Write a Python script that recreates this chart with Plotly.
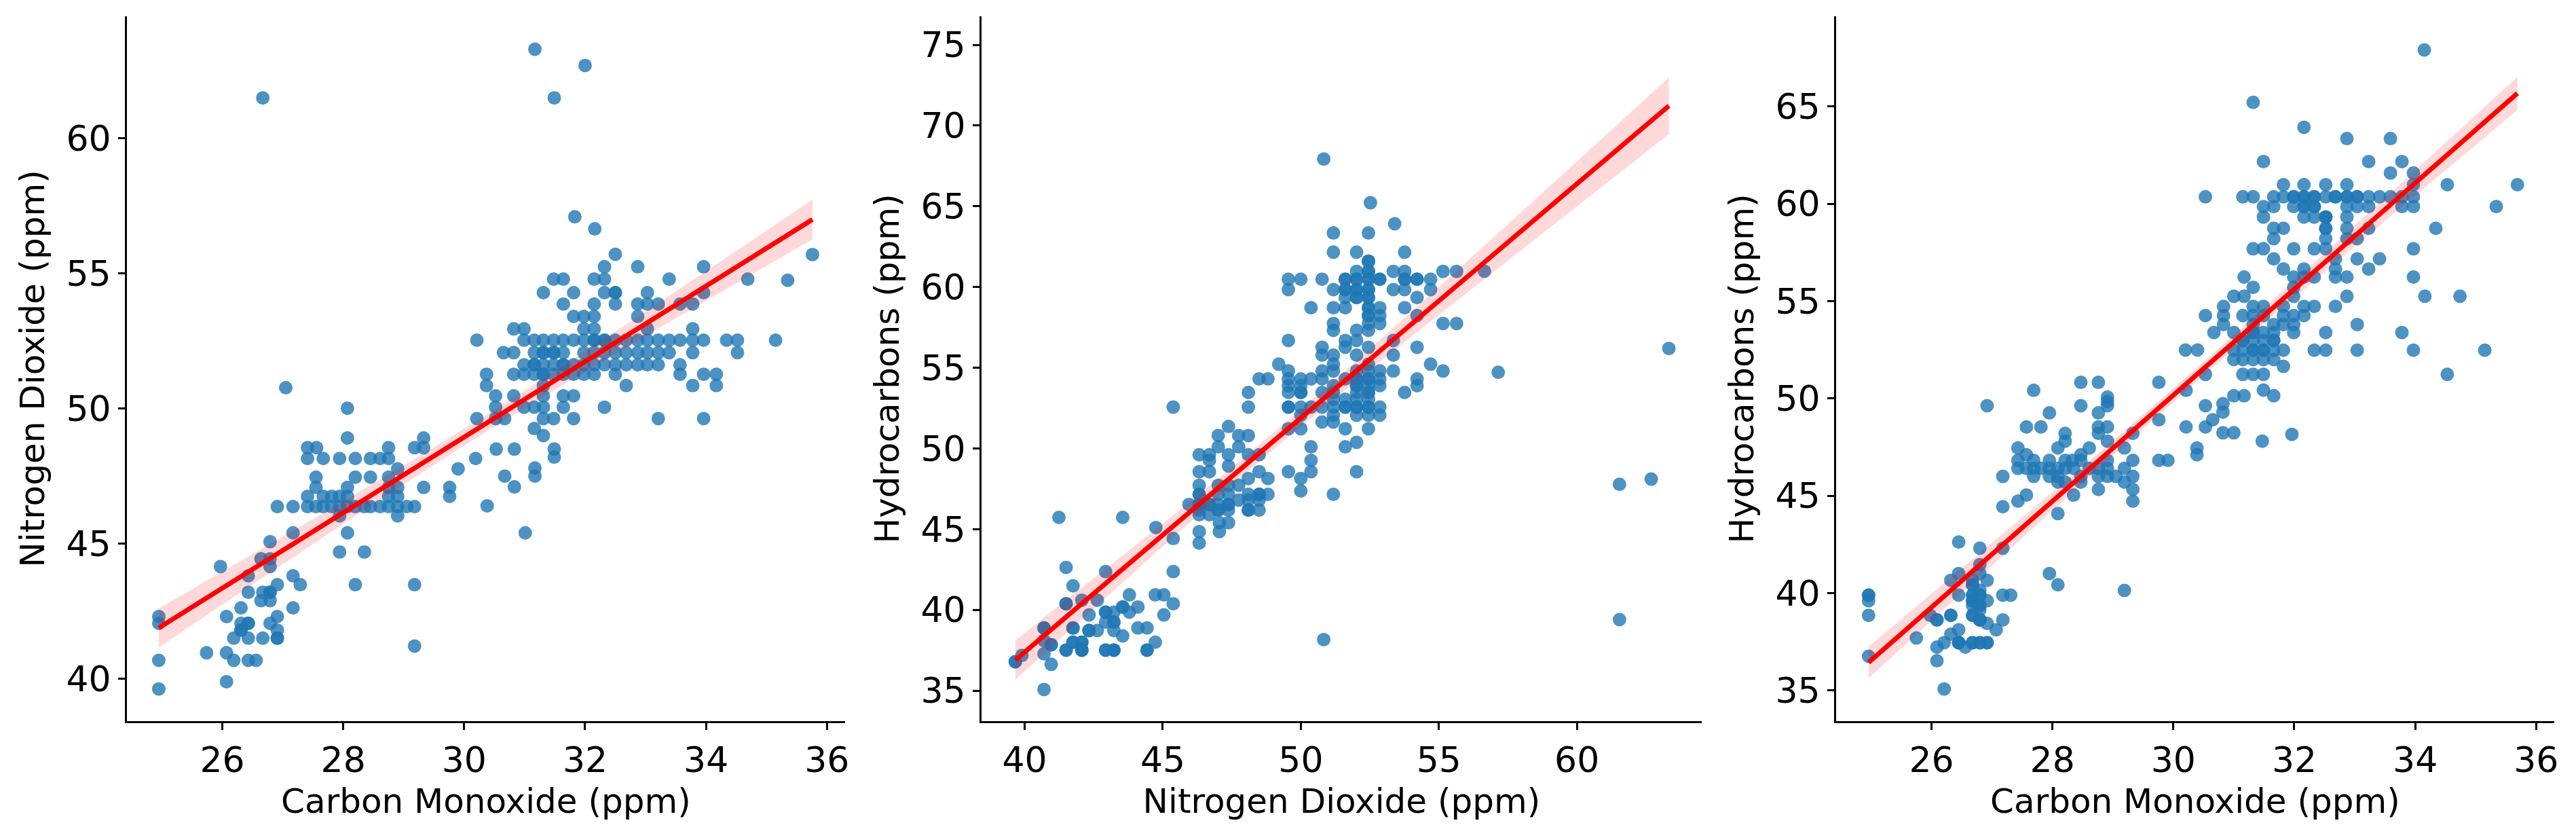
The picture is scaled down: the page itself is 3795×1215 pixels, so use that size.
import numpy as np
import plotly.graph_objects as go

# ---------------- Panel 1: Carbon Monoxide vs Nitrogen Dioxide ----------------
p1_co = [
    31.17, 32.0, 26.67, 31.49, 31.83, 32.16, 35.76, 35.35, 35.15,
    32.5,
    32.32, 32.87, 33.96,
    31.48, 31.64, 32.15, 32.32, 33.39, 34.69,
    31.31, 31.81, 32.32, 32.5, 33.03, 33.96,
    31.64, 32.15, 32.5, 32.87, 33.03, 33.21, 33.57, 33.78,
    31.81, 31.98, 32.15, 32.87,
    30.82, 30.99, 31.98, 32.15, 33.03, 33.78,
    30.21, 30.99, 31.16, 31.31, 31.48, 31.64, 31.81, 31.98, 32.15, 32.32, 32.5,
    32.68, 32.87, 33.03, 33.21, 33.39, 33.57, 33.78, 33.96, 34.34, 34.52,
    30.65, 30.82, 31.16, 31.31, 31.48, 31.64, 31.98, 32.15, 32.32, 32.5, 32.68,
    32.87, 33.03, 33.21, 33.39, 33.78, 34.52,
    30.99, 31.16, 31.31, 31.48, 31.64, 31.81, 31.98, 32.15, 32.32, 32.5, 32.68,
    32.87, 33.03, 33.21, 33.57,
    30.37, 30.82, 30.99, 31.16, 31.31, 31.48, 31.64, 31.81, 31.98, 32.15, 32.5,
    33.57, 33.96, 34.17,
    30.37, 31.31, 32.68, 33.78, 34.17,
    30.52, 30.82, 31.31, 31.64, 31.81,
    30.52, 30.99, 31.16, 31.31, 31.64, 32.32,
    30.21, 30.52, 30.67, 31.31, 31.48, 31.81, 33.21, 33.96,
    31.16,
    31.31,
    30.53, 30.83, 30.67, 30.83, 31.01, 31.17, 31.17, 31.49, 31.49, 30.38,
    27.05,
    28.07,
    28.07, 29.33,
    27.41, 27.56, 28.75, 29.18, 29.33,
    27.41, 27.67, 27.94, 28.2, 28.45, 28.61, 28.75, 30.19,
    28.9, 29.9,
    27.55, 28.2, 28.45, 28.75,
    27.55, 28.07, 28.75, 28.9, 29.33, 29.76,
    27.41, 27.67, 27.81, 27.94, 28.07, 28.75, 28.9, 29.76,
    26.91, 27.17, 27.41, 27.55, 27.67, 27.81, 27.94, 28.07, 28.2, 28.35, 28.45,
    28.61, 28.75, 28.9, 29.05, 29.18,
    27.94, 28.9,
    27.17, 28.07,
    26.79,
    27.94, 28.35,
    26.64, 26.79,
    25.97, 26.79,
    26.43, 27.17,
    26.91, 27.29, 28.2, 29.18,
    26.43, 26.67, 26.79,
    26.64, 26.79,
    26.31, 27.17,
    24.95, 26.07, 26.91,
    24.95, 26.31, 26.43, 26.79,
    26.31, 26.91,
    26.19, 26.43, 26.67, 26.91,
    29.18,
    25.74, 26.07,
    24.95, 26.19, 26.43, 26.56,
    26.07,
    24.95,
]
p1_no2 = [
    63.3, 62.7, 61.5, 61.5, 57.1, 56.65, 55.7, 54.75, 52.53,
    55.71,
    55.25, 55.25, 55.25,
    54.79, 54.79, 54.79, 54.79, 54.79, 54.79,
    54.29, 54.29, 54.29, 54.29, 54.29, 54.29,
    53.87, 53.87, 53.87, 53.87, 53.87, 53.87, 53.87, 53.87,
    53.41, 53.41, 53.41, 53.41,
    52.95, 52.95, 52.95, 52.95, 52.95, 52.95,
    52.53, 52.53, 52.53, 52.53, 52.53, 52.53, 52.53, 52.53, 52.53, 52.53, 52.53,
    52.53, 52.53, 52.53, 52.53, 52.53, 52.53, 52.53, 52.53, 52.53, 52.53,
    52.07, 52.07, 52.07, 52.07, 52.07, 52.07, 52.07, 52.07, 52.07, 52.07, 52.07,
    52.07, 52.07, 52.07, 52.07, 52.07, 52.07,
    51.62, 51.62, 51.62, 51.62, 51.62, 51.62, 51.62, 51.62, 51.62, 51.62, 51.62,
    51.62, 51.62, 51.62, 51.62,
    51.27, 51.27, 51.27, 51.27, 51.27, 51.27, 51.27, 51.27, 51.27, 51.27, 51.27,
    51.27, 51.27, 51.27,
    50.85, 50.85, 50.85, 50.85, 50.85,
    50.47, 50.47, 50.47, 50.47, 50.47,
    50.05, 50.05, 50.05, 50.05, 50.05, 50.05,
    49.63, 49.63, 49.63, 49.63, 49.63, 49.63, 49.63, 49.63,
    49.26,
    49.0,
    48.5, 48.5, 47.5, 47.1, 45.4, 47.5, 47.8, 48.5, 48.2, 46.4,
    50.77,
    50.01,
    48.91, 48.91,
    48.55, 48.55, 48.55, 48.55, 48.55,
    48.15, 48.15, 48.15, 48.15, 48.15, 48.15, 48.15, 48.15,
    47.77, 47.77,
    47.46, 47.46, 47.46, 47.46,
    47.08, 47.08, 47.08, 47.08, 47.08, 47.08,
    46.75, 46.75, 46.75, 46.75, 46.75, 46.75, 46.75, 46.75,
    46.37, 46.37, 46.37, 46.37, 46.37, 46.37, 46.37, 46.37, 46.37, 46.37, 46.37,
    46.37, 46.37, 46.37, 46.37, 46.37,
    46.03, 46.03,
    45.4, 45.4,
    45.07,
    44.69, 44.69,
    44.44, 44.44,
    44.15, 44.15,
    43.81, 43.81,
    43.48, 43.48, 43.48, 43.48,
    43.2, 43.2, 43.2,
    42.89, 42.89,
    42.62, 42.62,
    42.3, 42.3, 42.3,
    42.05, 42.05, 42.05, 42.05,
    41.8, 41.8,
    41.5, 41.5, 41.5, 41.5,
    41.21,
    40.96, 40.96,
    40.68, 40.68, 40.68, 40.68,
    39.89,
    39.62,
]
# darker (overlapping) spots in panel 1: points lying on top of points above
p1_dup_co = [31.31, 31.48, 31.64, 31.16, 31.31, 32.15, 32.32, 32.5, 26.79, 26.43, 26.31, 26.91]
p1_dup_no2 = [52.07, 52.07, 51.62, 51.62, 51.27, 52.53, 52.53, 54.29, 43.2, 42.05, 41.8, 41.5]

# ---------------- Panel 2: Nitrogen Dioxide vs Hydrocarbons ----------------
p2_no2 = [
    50.83, 52.52, 53.4, 57.15, 56.65, 63.33, 61.54, 62.69, 61.54, 50.83,
    45.38, 45.38, 44.75, 43.55, 41.24, 41.5, 42.93,
    41.5, 41.75, 42.07, 42.33, 42.63, 42.93, 43.23, 43.55, 43.79, 43.79, 44.1,
    44.73, 45.04, 45.04, 41.75, 41.75, 42.07, 42.07, 41.5, 42.33, 42.63, 42.93,
    43.23, 43.23, 43.55, 42.93, 43.23, 44.1, 44.43, 44.73, 44.43, 40.7, 40.7,
    40.7, 40.96, 40.96, 40.7, 39.66, 39.9,
    51.18, 52.45,
    51.18, 52.02, 53.76,
    52.45,
    52.02, 52.45, 53.35, 53.76, 55.15, 55.64,
    49.55, 50.0, 50.77, 51.61, 52.02, 52.45, 52.86, 53.76, 54.21, 54.7,
    49.55, 51.18, 51.61, 52.02, 52.45, 53.35, 53.76, 54.7,
    51.61, 52.02, 52.45, 54.21,
    50.37, 51.18, 51.61, 52.45, 52.86, 53.76,
    52.45, 52.86, 54.21,
    51.18, 52.45, 52.86, 55.15, 55.64,
    51.18, 52.02, 52.45,
    49.55, 51.61, 52.02, 53.35,
    50.77, 51.61, 52.45, 54.21,
    50.77, 51.18, 52.02, 53.35,
    49.2, 51.18, 52.45, 54.7,
    49.55, 50.77, 51.18, 52.02, 52.45, 52.86, 53.35, 55.15,
    48.49, 48.81, 49.55, 50.0, 50.37, 50.77, 51.61, 52.02, 52.45, 52.86, 54.21,
    49.55, 50.0, 51.18, 52.02, 52.45, 52.86, 54.21,
    48.1, 49.55, 50.0, 50.77, 51.18, 52.02, 52.45, 53.76,
    51.18, 51.61, 52.02, 52.45,
    45.38, 48.1, 49.55, 50.0, 50.37, 50.77, 51.18, 51.61, 52.02, 52.45, 52.86,
    50.0, 51.18, 52.02, 52.45, 52.86,
    50.77, 51.18,
    49.55, 50.0, 51.61, 52.45,
    47.38,
    47.01, 47.75, 48.1,
    52.02,
    47.01, 47.75, 50.37, 51.61,
    46.32, 46.69, 47.38, 48.1, 48.49,
    46.69, 50.37,
    47.38,
    46.32, 46.69, 48.49, 49.55, 50.37, 52.02,
    48.1, 48.81, 50.0,
    46.32, 47.01, 47.38, 47.75,
    50.0,
    46.32, 47.01, 47.38, 48.1, 48.49, 48.81, 51.18,
    47.75, 48.1, 48.49,
    45.95, 46.32, 46.69, 47.01, 47.38,
    46.32, 47.01, 47.38, 48.1, 48.49,
    46.32, 46.69,
    47.05, 47.38,
    46.32, 47.05,
    45.38,
    46.32,
]
p2_hc = [
    67.93, 65.22, 63.92, 54.72, 60.98, 56.19, 47.78, 48.1, 39.4, 38.16,
    42.37, 40.38, 45.1, 45.73, 45.73, 42.63, 42.37,
    40.38, 41.49, 40.6, 39.69, 40.6, 39.86, 39.86, 40.18, 39.86, 40.93, 40.18,
    40.93, 40.93, 39.69, 38.88, 38.0, 38.0, 37.51, 37.51, 38.72, 38.72, 39.24,
    39.24, 38.72, 38.39, 37.51, 37.51, 38.88, 38.88, 38.0, 37.51, 38.88, 38.1,
    37.28, 37.84, 36.63, 35.07, 36.79, 37.18,
    63.35, 63.35,
    62.16, 62.16, 62.16,
    61.6,
    60.97, 60.97, 60.97, 60.97, 60.97, 60.97,
    60.48, 60.48, 60.48, 60.48, 60.48, 60.48, 60.48, 60.48, 60.48, 60.48,
    59.84, 59.84, 59.84, 59.84, 59.84, 59.84, 59.84, 59.84,
    59.35, 59.35, 59.35, 59.35,
    58.72, 58.72, 58.72, 58.72, 58.72, 58.72,
    58.23, 58.23, 58.23,
    57.74, 57.74, 57.74, 57.74, 57.74,
    57.32, 57.32, 57.32,
    56.69, 56.69, 56.69, 56.69,
    56.27, 56.27, 56.27, 56.27,
    55.78, 55.78, 55.78, 55.78,
    55.22, 55.22, 55.22, 55.22,
    54.8, 54.8, 54.8, 54.8, 54.8, 54.8, 54.8, 54.8,
    54.31, 54.31, 54.31, 54.31, 54.31, 54.31, 54.31, 54.31, 54.31, 54.31, 54.31,
    53.89, 53.89, 53.89, 53.89, 53.89, 53.89, 53.89,
    53.47, 53.47, 53.47, 53.47, 53.47, 53.47, 53.47, 53.47,
    53.05, 53.05, 53.05, 53.05,
    52.56, 52.56, 52.56, 52.56, 52.56, 52.56, 52.56, 52.56, 52.56, 52.56, 52.56,
    52.06, 52.06, 52.06, 52.06, 52.06,
    51.64, 51.64,
    51.22, 51.22, 51.22, 51.22,
    51.36,
    50.8, 50.8, 50.8,
    50.38,
    50.1, 50.1, 50.1, 50.1,
    49.61, 49.61, 49.61, 49.61, 49.61,
    49.26, 49.26,
    48.91,
    48.56, 48.56, 48.56, 48.56, 48.56, 48.56,
    48.14, 48.14, 48.14,
    47.72, 47.72, 47.72, 47.72,
    47.37,
    47.16, 47.16, 47.16, 47.16, 47.16, 47.16, 47.16,
    46.8, 46.8, 46.8,
    46.53, 46.53, 46.53, 46.53, 46.53,
    46.18, 46.18, 46.18, 46.18, 46.18,
    45.9, 45.9,
    45.4, 45.4,
    44.85, 44.85,
    44.42,
    44.14,
]
# darker (overlapping) spots in panel 2
p2_dup_no2 = [
    52.45, 52.45, 52.02, 52.02, 52.45, 51.61, 52.45, 52.45, 51.61, 52.02, 52.45,
    52.02, 52.45, 52.02, 51.61, 52.45, 52.02, 49.55, 50.0, 52.86, 53.76, 54.21,
    41.75, 42.07, 41.5, 42.07, 42.93, 43.23, 42.33, 40.7, 40.96, 41.5, 42.93,
    43.55, 43.23, 44.43, 39.66,
    46.32, 46.69, 47.01, 47.38, 48.1, 46.32, 48.49,
    52.45, 52.45, 41.75, 42.07, 43.23,
]
p2_dup_hc = [
    60.48, 59.84, 60.48, 59.84, 60.97, 60.48, 58.72, 58.23, 59.84, 59.35, 54.31,
    54.31, 52.56, 52.56, 52.56, 53.47, 53.89, 52.56, 53.47, 60.48, 60.48, 60.48,
    38.0, 37.51, 37.51, 38.0, 37.51, 37.51, 38.72, 38.88, 37.84, 40.38, 39.86,
    40.18, 39.24, 37.51, 36.79,
    46.53, 46.53, 46.18, 46.53, 46.18, 47.16, 47.16,
    61.6, 59.35, 38.88, 37.51, 37.51,
]

# ---------------- Panel 3: Carbon Monoxide vs Hydrocarbons ----------------
p3_co = [
    34.15, 30.2, 30.4, 30.82, 30.82, 30.82, 31.0, 31.47, 31.96,
    31.32,
    32.16,
    32.87, 33.59,
    31.49, 33.23, 33.78,
    33.59, 33.97,
    31.82, 32.16, 32.52, 32.87, 33.97, 34.53, 35.69,
    30.53, 31.15, 31.32, 31.66, 31.82, 31.99, 32.16, 32.33, 32.52, 32.68, 32.87,
    33.04, 33.23, 33.41, 33.59, 33.78, 33.97,
    31.49, 31.66, 31.99, 32.16, 32.33, 32.87, 33.04, 33.23, 33.78, 33.97, 35.34,
    31.49, 32.16, 32.33, 32.52, 32.87,
    31.66, 31.82, 32.52, 32.87, 33.23, 34.34,
    31.66, 32.52, 32.87, 33.04,
    31.32, 31.49, 31.99, 32.33, 32.52, 33.97,
    31.66, 32.68, 33.04, 33.41,
    31.82, 32.16, 32.68, 33.23,
    31.17, 31.99, 32.16, 32.33, 32.68, 32.87, 33.97,
    31.32, 31.99,
    31.0, 31.17, 31.99, 32.87, 34.16, 34.74,
    30.83, 31.32, 31.49, 31.82, 32.16, 32.33, 32.68,
    30.53, 30.83, 31.15, 31.32, 31.49, 31.82, 31.99, 32.16,
    30.83, 31.32, 31.66, 31.82, 31.99, 33.04,
    30.67, 31.0, 31.32, 31.49, 31.66, 31.99, 32.52, 33.78,
    31.15, 31.32, 31.49, 31.66,
    31.0, 31.15, 31.32, 31.49, 31.66, 31.82, 32.33, 32.52, 33.04, 33.97, 35.15,
    31.0, 31.15, 31.32, 31.66,
    31.82,
    30.53, 31.15, 31.32, 31.49, 34.53,
    31.49,
    31.0, 31.17, 31.66,
    28.47, 28.76, 29.76,
    27.69, 30.21,
    28.91,
    28.91,
    26.92, 28.47, 28.91, 30.53,
    27.95, 28.76,
    29.76, 30.65,
    27.57, 27.81, 28.76, 28.91, 30.21, 30.53,
    28.21, 28.76, 29.33,
    28.21, 28.91,
    27.43, 28.09, 28.61, 29.19, 30.39,
    27.57, 28.47, 30.39,
    27.43, 27.69, 27.95, 28.21, 28.33, 28.47, 28.91, 29.33, 29.76, 29.91,
    27.43, 27.57, 27.69, 27.81, 27.95, 28.09, 28.21, 28.35, 28.61, 28.76, 28.91, 29.19,
    27.18, 27.69, 27.95, 28.09, 28.47, 28.76, 28.91, 29.05, 29.33,
    28.09, 28.21, 28.47, 29.19,
    28.76, 29.33,
    27.57, 28.35,
    27.43, 29.33,
    27.18,
    28.09,
    26.45,
    26.8, 27.18,
    26.8,
    26.45, 26.8, 27.95,
    26.32, 26.68, 26.92,
    26.68, 28.09,
    26.8, 29.19,
    24.96, 26.45, 26.68, 26.8, 27.18, 27.31,
    24.96, 26.68, 26.92,
    26.68, 26.8,
    26.8,
    24.96, 25.98, 26.32, 26.68,
    26.09, 26.8, 27.18,
    26.92,
    26.45, 27.07,
    26.32,
    25.75,
    26.21, 26.45, 26.68, 26.8, 26.92,
    26.09, 26.56,
    24.96,
    26.09,
    26.21,
]
p3_hc = [
    67.9, 52.49, 52.49, 48.24, 49.3, 49.73, 48.24, 47.81, 48.16,
    65.21,
    63.93,
    63.35, 63.35,
    62.17, 62.17, 62.17,
    61.58, 61.58,
    60.98, 60.98, 60.98, 60.98, 60.98, 60.98, 60.98,
    60.36, 60.36, 60.36, 60.36, 60.36, 60.36, 60.36, 60.36, 60.36, 60.36, 60.36,
    60.36, 60.36, 60.36, 60.36, 60.36, 60.36,
    59.86, 59.86, 59.86, 59.86, 59.86, 59.86, 59.86, 59.86, 59.86, 59.86, 59.86,
    59.32, 59.32, 59.32, 59.32, 59.32,
    58.74, 58.74, 58.74, 58.74, 58.74, 58.74,
    58.21, 58.21, 58.21, 58.21,
    57.69, 57.69, 57.69, 57.69, 57.69, 57.69,
    57.17, 57.17, 57.17, 57.17,
    56.65, 56.65, 56.65, 56.65,
    56.24, 56.24, 56.24, 56.24, 56.24, 56.24, 56.24,
    55.71, 55.71,
    55.25, 55.25, 55.25, 55.25, 55.25, 55.25,
    54.73, 54.73, 54.73, 54.73, 54.73, 54.73, 54.73,
    54.26, 54.26, 54.26, 54.26, 54.26, 54.26, 54.26, 54.26,
    53.8, 53.8, 53.8, 53.8, 53.8, 53.8,
    53.39, 53.39, 53.39, 53.39, 53.39, 53.39, 53.39, 53.39,
    52.98, 52.98, 52.98, 52.98,
    52.48, 52.48, 52.48, 52.48, 52.48, 52.48, 52.48, 52.48, 52.48, 52.48, 52.48,
    52.0, 52.0, 52.0, 52.0,
    51.65,
    51.24, 51.24, 51.24, 51.24, 51.24,
    50.43,
    50.14, 50.14, 50.14,
    50.83, 50.83, 50.83,
    50.42, 50.42,
    50.07,
    49.84,
    49.63, 49.63, 49.63, 49.63,
    49.26, 49.26,
    48.91, 48.91,
    48.54, 48.54, 48.54, 48.54, 48.54, 48.54,
    48.21, 48.21, 48.21,
    47.81, 47.81,
    47.46, 47.46, 47.46, 47.46, 47.46,
    47.11, 47.11, 47.11,
    46.82, 46.82, 46.82, 46.82, 46.82, 46.82, 46.82, 46.82, 46.82, 46.82,
    46.41, 46.41, 46.41, 46.41, 46.41, 46.41, 46.41, 46.41, 46.41, 46.41, 46.41, 46.41,
    46.0, 46.0, 46.0, 46.0, 46.0, 46.0, 46.0, 46.0, 46.0,
    45.71, 45.71, 45.71, 45.71,
    45.33, 45.33,
    45.04, 45.04,
    44.73, 44.73,
    44.44,
    44.09,
    42.63,
    42.31, 42.31,
    41.47,
    41.01, 41.01, 41.01,
    40.66, 40.66, 40.66,
    40.43, 40.43,
    40.14, 40.14,
    39.9, 39.9, 39.9, 39.9, 39.9, 39.9,
    39.61, 39.61, 39.61,
    39.38, 39.38,
    39.15,
    38.86, 38.86, 38.86, 38.86,
    38.63, 38.63, 38.63,
    38.45,
    38.12, 38.12,
    37.89,
    37.7,
    37.46, 37.46, 37.46, 37.46, 37.46,
    37.23, 37.23,
    36.76,
    36.53,
    35.08,
]
# darker (overlapping) spots in panel 3
p3_dup_co = [
    32.16, 32.33, 31.99, 32.52, 32.52, 31.32, 31.49, 31.15, 31.32, 31.49, 31.66,
    26.68, 26.8, 26.68, 26.8, 26.68, 26.8, 26.45, 26.92, 26.32, 26.09,
    32.68, 32.87, 33.04, 32.16, 32.33, 32.52,
    26.68, 26.8, 26.68, 26.45, 26.8, 24.96,
]
p3_dup_hc = [
    60.36, 60.36, 60.36, 59.32, 58.74, 52.48, 52.48, 52.98, 53.39, 52.0, 52.98,
    39.9, 39.38, 38.86, 38.63, 37.46, 37.46, 37.46, 37.46, 38.86, 38.63,
    60.36, 60.36, 60.36, 59.86, 59.86, 59.32,
    39.61, 39.9, 40.43, 37.46, 38.63, 39.9,
]

x_titles = ["Carbon Monoxide (ppm)", "Nitrogen Dioxide (ppm)", "Carbon Monoxide (ppm)"]
y_titles = ["Nitrogen Dioxide (ppm)", "Hydrocarbons (ppm)", "Hydrocarbons (ppm)"]
x_ticks = [[26, 28, 30, 32, 34, 36], [40, 45, 50, 55, 60], [26, 28, 30, 32, 34, 36]]
y_ticks = [[40, 45, 50, 55, 60], [35, 40, 45, 50, 55, 60, 65, 70, 75], [35, 40, 45, 50, 55, 60, 65]]

panels = [
    (p1_co + p1_dup_co, p1_no2 + p1_dup_no2),
    (p2_no2 + p2_dup_no2, p2_hc + p2_dup_hc),
    (p3_co + p3_dup_co, p3_hc + p3_dup_hc),
]

# ---------------- layout geometry (pixels of the 3795 x 1215 canvas) ----------------
W, H = 3795, 1215
x_dom_px = [(179, 1239), (1440, 2503), (2701, 3761)]
y_dom_px = (1054, 16)  # bottom, top
x_ranges = [(24.42, 36.30), (38.43, 64.52), (24.42, 36.30)]
y_ranges = [(38.43, 64.52), (33.11, 76.77), (33.43, 69.63)]

FONT = "DejaVu Sans"
fig = go.Figure()

for i, (xs, ys) in enumerate(panels):
    x = np.asarray(xs, float)
    y = np.asarray(ys, float)
    xa = "x" if i == 0 else f"x{i+1}"
    ya = "y" if i == 0 else f"y{i+1}"

    # scatter
    fig.add_trace(go.Scatter(
        x=x, y=y, mode="markers", xaxis=xa, yaxis=ya,
        marker=dict(size=20, color="rgba(31,119,180,0.8)", line=dict(width=0)),
        showlegend=False, hoverinfo="x+y"))

    # linear regression with 95% confidence band
    n = len(x)
    slope, intercept = np.polyfit(x, y, 1)
    xg = np.linspace(x.min(), x.max(), 100)
    yg = intercept + slope * xg
    resid = y - (intercept + slope * x)
    s = np.sqrt(np.sum(resid ** 2) / (n - 2))
    xbar = x.mean()
    sxx = np.sum((x - xbar) ** 2)
    se = s * np.sqrt(1.0 / n + (xg - xbar) ** 2 / sxx)
    upper = yg + 1.97 * se
    lower = yg - 1.97 * se

    fig.add_trace(go.Scatter(
        x=np.concatenate([xg, xg[::-1]]), y=np.concatenate([upper, lower[::-1]]),
        mode="lines", fill="toself", fillcolor="rgba(255,0,0,0.15)",
        line=dict(width=0, color="rgba(255,0,0,0)"), xaxis=xa, yaxis=ya,
        showlegend=False, hoverinfo="skip"))
    fig.add_trace(go.Scatter(
        x=xg, y=yg, mode="lines", line=dict(color="red", width=7),
        xaxis=xa, yaxis=ya, showlegend=False, hoverinfo="skip"))

    x0, x1 = x_dom_px[i]
    axis_common = dict(
        showline=True, linecolor="black", linewidth=2.5, mirror=False,
        ticks="outside", ticklen=10, tickwidth=2.5, tickcolor="black",
        showgrid=False, zeroline=False,
        tickfont=dict(family=FONT, size=52, color="black"),
    )
    xkey = "xaxis" if i == 0 else f"xaxis{i+1}"
    ykey = "yaxis" if i == 0 else f"yaxis{i+1}"
    fig.update_layout(**{
        xkey: dict(axis_common,
                   domain=[x0 / W, x1 / W], anchor=ya,
                   range=list(x_ranges[i]), tickmode="array", tickvals=x_ticks[i],
                   title=dict(text=x_titles[i], font=dict(family=FONT, size=50, color="black"),
                              standoff=14)),
        ykey: dict(axis_common,
                   domain=[(H - y_dom_px[0]) / H, (H - y_dom_px[1]) / H], anchor=xa,
                   range=list(y_ranges[i]), tickmode="array", tickvals=y_ticks[i],
                   title=dict(text=y_titles[i], font=dict(family=FONT, size=50, color="black"),
                              standoff=16)),
    })

fig.update_layout(
    width=W, height=H,
    margin=dict(l=0, r=0, t=0, b=0),
    paper_bgcolor="white", plot_bgcolor="white",
    font=dict(family=FONT, color="black"),
    showlegend=False,
)

fig.write_html("out.html")
